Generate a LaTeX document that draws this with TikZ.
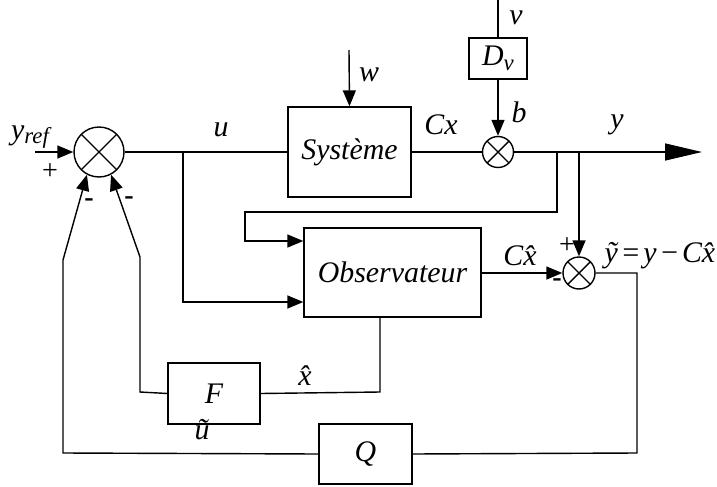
\documentclass[tikz,border=0pt]{standalone}
\usepackage{fontspec}
\setmainfont{Liberation Serif}
\usetikzlibrary{arrows.meta}

\begin{document}
\begin{tikzpicture}[x=0.02cm, y=-0.02cm, line width=0.8pt,
    block/.style={draw, fill=white, inner sep=1pt,
                  font=\fontsize{17}{20}\selectfont\itshape},
    summer/.style={draw, circle, inner sep=0pt, minimum size=#1,
        path picture={
            \draw (path picture bounding box.north west) -- (path picture bounding box.south east);
            \draw (path picture bounding box.south west) -- (path picture bounding box.north east);
        }
    },
    lbl/.style={font=\fontsize{17}{20}\selectfont\itshape, inner sep=0pt},
    sgn/.style={font=\fontsize{16}{18}\selectfont, inner sep=0pt},
    arr/.style={-{Triangle[length=0.32cm, width=0.26cm]}},
    bigarr/.style={-{Triangle[length=0.74cm, width=0.34cm]}}
]
\useasboundingbox (0,0) rectangle (717,487);

% ================================================================
%  Blocks
% ================================================================
\node[summer=1.0cm] (s1) at (99,152) {};
\node[block, minimum width=2.46cm, minimum height=1.8cm] (sys) at (349.5,152) {Système};
\node[block, minimum width=1.16cm, minimum height=0.82cm] (dv) at (498,58.5)
    {D\raisebox{-3pt}{\fontsize{13}{14}\selectfont v}};
\node[summer=0.62cm] (s2) at (498,152) {};
\node[block, minimum width=3.54cm, minimum height=1.78cm] (obs) at (392.5,272.5) {Observateur};
\node[summer=0.64cm] (s3) at (579,273) {};
\node[block, minimum width=1.84cm, minimum height=1.22cm] (F) at (214,393.5) {F};
\node[block, minimum width=1.86cm, minimum height=1.2cm] (Q) at (365.5,454) {Q};

% free ends and bends
\coordinate (yin)  at (35,152);
\coordinate (wtop) at (349,50);
\coordinate (vtop) at (498,0);
\coordinate (yout) at (702,152);
\coordinate (ua)   at (183,152);
\coordinate (ya)   at (557,152);
\coordinate (yb)   at (579,152);
\coordinate (ya2)  at (557,212);
\coordinate (ya3)  at (245,212);
\coordinate (ya4)  at (245,241);
\coordinate (ub)   at (183,302);
\coordinate (eb)   at (637,273);
\coordinate (ec)   at (637,453);
\coordinate (qa)   at (63,453);
\coordinate (qb)   at (63,260);
\coordinate (xa)   at (380,392);
\coordinate (fa)   at (140,392);
\coordinate (fb)   at (140,257);

% ================================================================
%  Forward path
% ================================================================
\draw[arr] (yin) -- (s1.west);
\draw (s1.east) -- (sys.west);
\draw[arr] (wtop) -- (sys.north);
\draw (vtop) -- (dv.north);
\draw[arr] (dv.south) -- (s2.north);
\draw (sys.east) -- (s2.west);
\draw[bigarr] (s2.east) -- (yout);

% observer inputs
\draw[arr] (ua) -- (ub) -- (ub -| obs.west);
\draw[arr] (ya) -- (ya2) -- (ya3) -- (ya4) -- (ya4 -| obs.west);

% output error
\draw[arr] (yb) -- (s3.north);
\draw[arr] (obs.east |- s3.west) -- (s3.west);
\draw (s3.east) -- (eb) -- (ec) -- (Q.east);

% feedback loops
\draw[arr] (Q.west) -- (qa) -- (qb) -- (s1.242);
\draw (obs.south -| xa) -- (xa) -- (F.east);
\draw[arr] (F.west) -- (fa) -- (fb) -- (s1.298);

% ================================================================
%  Labels
% ================================================================
\node[lbl] at (30,137) {y\raisebox{-2pt}{\fontsize{13}{14}\selectfont ref}};
\node[sgn] at (50,172) {+};
\node[sgn] at (89,203) {\textbf{-}};
\node[sgn] at (129,201) {\textbf{-}};
\node[lbl] at (221,130) {u};
\node[lbl] at (369,75) {w};
\node[lbl] at (441,125) {Cx};
\node[lbl] at (516,18) {v};
\node[lbl] at (519,112) {b};
\node[lbl] at (617,125) {y};
\node[sgn] at (567,246) {+};
\node[sgn] at (557,283) {\textbf{-}};
\node[lbl] at (520,256) {C\^{x}};
\node[lbl, anchor=west] at (604,256)
    {\~{y}\hspace{1.5pt}=\hspace{1.5pt}y\hspace{1.5pt}−\hspace{1.5pt}C\^{x}};
\node[lbl] at (305,376) {\^{x}};
\node[lbl] at (202,430) {\~{u}};
\end{tikzpicture}
\end{document}
